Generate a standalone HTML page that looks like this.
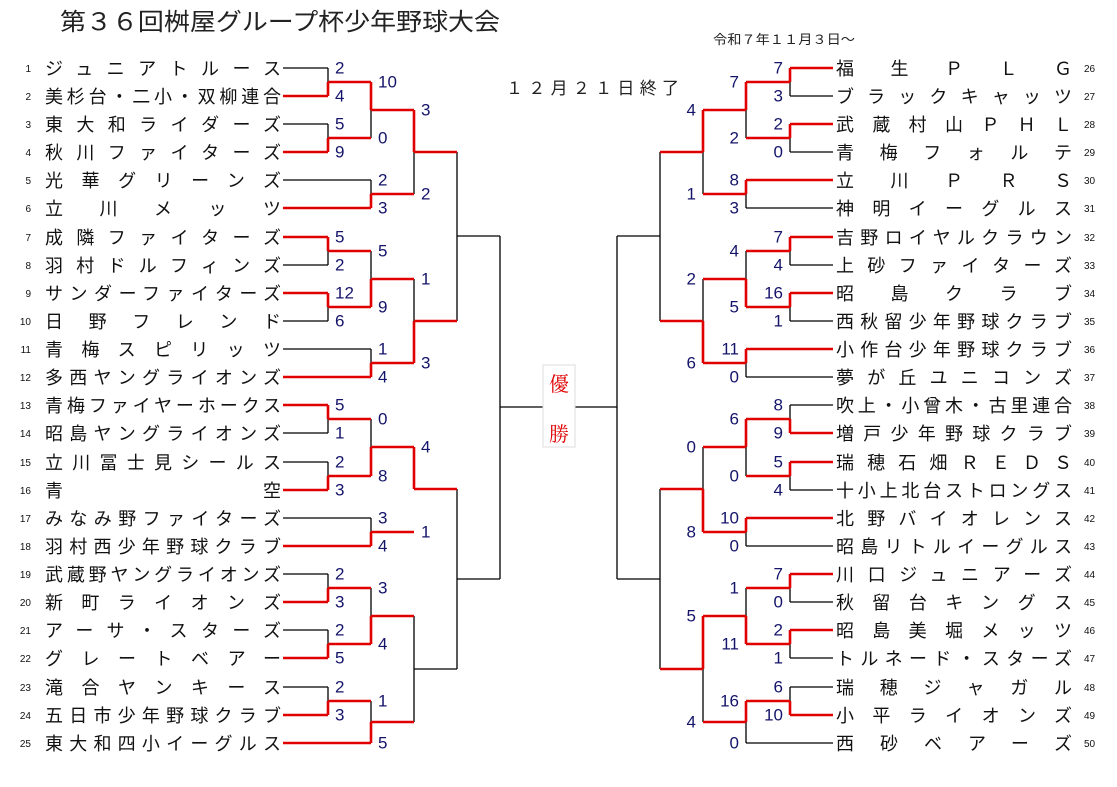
<!DOCTYPE html>
<html><head><meta charset="utf-8">
<style>
html,body{margin:0;padding:0;background:#fff;}
svg{display:block;}
.n{font-family:"Liberation Sans","Noto Sans CJK JP",sans-serif;font-size:18px;fill:#111;}
.s{font-family:"Liberation Sans",sans-serif;font-size:17px;fill:#14146a;dominant-baseline:central;}
.e{text-anchor:end;}
.k{font-family:"Liberation Sans",sans-serif;font-size:10px;fill:#111;}
.b{stroke:#000;stroke-width:1.3;fill:none;}
.r{stroke:#e00000;stroke-width:2.6;fill:none;}
</style></head><body>
<svg width="1117" height="787" viewBox="0 0 1117 787" xmlns="http://www.w3.org/2000/svg">
<text x="60" y="30" font-family="'Liberation Sans','Noto Sans CJK JP',sans-serif" font-size="24" fill="#222" textLength="440" lengthAdjust="spacingAndGlyphs">第３６回桝屋グループ杯少年野球大会</text>
<text x="713" y="44" font-family="'Liberation Sans','Noto Sans CJK JP',sans-serif" font-size="13" fill="#222" textLength="142" lengthAdjust="spacingAndGlyphs">令和７年１１月３日～</text>
<text x="506" y="94" font-family="'Liberation Sans','Noto Sans CJK JP',sans-serif" font-size="17" fill="#222" textLength="173" lengthAdjust="spacing">１２月２１日終了</text>

<path class="b" d="M283 68H328M283 124H328M283 265H328M283 321H328M283 433H328M283 462H328M283 574H328M283 630H328M283 687H328
M283 180H371M283 349H371M283 518H371
M328 68V82M328 124V138M328 251V265M328 307V321M328 419V433M328 462V476M328 574V588M328 630V644M328 687V701
M371 110V138M371 180V194M371 251V279M371 349V363M371 419V447M371 518V532M371 588V616M371 701V722
M414 152V194M414 279V321M414 447V489M414 616V722M414 669H457
M457 152V321M457 489V669M457 236H500M457 579H500M500 236V579M500 407H543"/>
<path class="r" d="M283 96H328M283 152H328M283 237H328M283 293H328M283 405H328M283 490H328M283 602H328M283 658H328M283 715H328
M283 208H371M283 377H371M283 546H371M283 743H371
M328 82V96M328 138V152M328 237V251M328 293V307M328 405V419M328 476V490M328 588V602M328 644V658M328 701V715
M328 82H371M328 138H371M328 251H371M328 307H371M328 419H371M328 476H371M328 588H371M328 644H371M328 701H371
M371 82V110M371 194V208M371 279V307M371 363V377M371 447V476M371 532V546M371 616V644M371 722V743
M371 110H414M371 194H414M371 279H414M371 363H414M371 447H414M371 532H414M371 616H414M371 722H414
M414 110V152M414 321V363M414 447V489M414 152H457M414 321H457M414 489H457"/>

<path class="b" d="M833 96H790M833 152H790M833 265H790M833 321H790M833 405H790M833 490H790M833 602H790M833 658H790M833 687H790
M833 208H746M833 377H746M833 546H746M833 743H746
M790 82V96M790 138V152M790 251V265M790 307V321M790 405V419M790 476V490M790 588V602M790 644V658M790 687V701
M746 110V138M746 194V208M746 251V279M746 363V377M746 447V476M746 532V546M746 588V616M746 722V743
M703 152V194M703 279V321M703 447V489M703 669V722
M660 152V321M660 489V669M660 236H617M660 579H617M617 236V579M617 407H575"/>
<path class="r" d="M833 68H790M833 124H790M833 237H790M833 293H790M833 433H790M833 462H790M833 574H790M833 630H790M833 715H790
M833 180H746M833 349H746M833 518H746
M790 68V82M790 124V138M790 237V251M790 293V307M790 419V433M790 462V476M790 574V588M790 630V644M790 701V715
M790 82H746M790 138H746M790 251H746M790 307H746M790 419H746M790 476H746M790 588H746M790 644H746M790 701H746
M746 82V110M746 180V194M746 279V307M746 349V363M746 419V447M746 518V532M746 616V644M746 701V722
M746 110H703M746 194H703M746 279H703M746 363H703M746 447H703M746 532H703M746 616H703M746 722H703
M703 110V152M703 321V363M703 489V532M703 616V669M703 152H660M703 321H660M703 489H660M703 669H660"/>

<rect x="543" y="365" width="32" height="82" fill="#fff" stroke="#ddd" stroke-width="1"/>
<text x="559" y="391" text-anchor="middle" font-family="'Liberation Serif','Noto Serif CJK SC',serif" font-size="20" fill="#e00000">優</text>
<text x="559" y="441" text-anchor="middle" font-family="'Liberation Serif','Noto Serif CJK SC',serif" font-size="20" fill="#e00000">勝</text>

<g class="k" text-anchor="end">
<text x="31" y="72">1</text><text x="31" y="100">2</text><text x="31" y="128">3</text><text x="31" y="156">4</text><text x="31" y="184">5</text><text x="31" y="212">6</text><text x="31" y="241">7</text><text x="31" y="269">8</text><text x="31" y="297">9</text><text x="31" y="325">10</text><text x="31" y="353">11</text><text x="31" y="381">12</text><text x="31" y="409">13</text><text x="31" y="437">14</text><text x="31" y="466">15</text><text x="31" y="494">16</text><text x="31" y="522">17</text><text x="31" y="550">18</text><text x="31" y="578">19</text><text x="31" y="606">20</text><text x="31" y="634">21</text><text x="31" y="662">22</text><text x="31" y="691">23</text><text x="31" y="719">24</text><text x="31" y="747">25</text>
</g>
<g class="k">
<text x="1084" y="72">26</text><text x="1084" y="100">27</text><text x="1084" y="128">28</text><text x="1084" y="156">29</text><text x="1084" y="184">30</text><text x="1084" y="212">31</text><text x="1084" y="241">32</text><text x="1084" y="269">33</text><text x="1084" y="297">34</text><text x="1084" y="325">35</text><text x="1084" y="353">36</text><text x="1084" y="381">37</text><text x="1084" y="409">38</text><text x="1084" y="437">39</text><text x="1084" y="466">40</text><text x="1084" y="494">41</text><text x="1084" y="522">42</text><text x="1084" y="550">43</text><text x="1084" y="578">44</text><text x="1084" y="606">45</text><text x="1084" y="634">46</text><text x="1084" y="662">47</text><text x="1084" y="691">48</text><text x="1084" y="719">49</text><text x="1084" y="747">50</text>
</g>

<g class="n">
<text x="45" y="75" textLength="236" lengthAdjust="spacing">ジュニアトルース</text>
<text x="45" y="103" textLength="236" lengthAdjust="spacing">美杉台・二小・双柳連合</text>
<text x="45" y="131" textLength="236" lengthAdjust="spacing">東大和ライダーズ</text>
<text x="45" y="159" textLength="236" lengthAdjust="spacing">秋川ファイターズ</text>
<text x="45" y="187" textLength="236" lengthAdjust="spacing">光華グリーンズ</text>
<text x="45" y="215" textLength="236" lengthAdjust="spacing">立川メッツ</text>
<text x="45" y="244" textLength="236" lengthAdjust="spacing">成隣ファイターズ</text>
<text x="45" y="272" textLength="236" lengthAdjust="spacing">羽村ドルフィンズ</text>
<text x="45" y="300" textLength="236" lengthAdjust="spacing">サンダーファイターズ</text>
<text x="45" y="328" textLength="236" lengthAdjust="spacing">日野フレンド</text>
<text x="45" y="356" textLength="236" lengthAdjust="spacing">青梅スピリッツ</text>
<text x="45" y="384" textLength="236" lengthAdjust="spacing">多西ヤングライオンズ</text>
<text x="45" y="412" textLength="236" lengthAdjust="spacing">青梅ファイヤーホークス</text>
<text x="45" y="440" textLength="236" lengthAdjust="spacing">昭島ヤングライオンズ</text>
<text x="45" y="469" textLength="236" lengthAdjust="spacing">立川冨士見シールス</text>
<text x="45" y="497" textLength="236" lengthAdjust="spacing">青空</text>
<text x="45" y="525" textLength="236" lengthAdjust="spacing">みなみ野ファイターズ</text>
<text x="45" y="553" textLength="236" lengthAdjust="spacing">羽村西少年野球クラブ</text>
<text x="45" y="581" textLength="236" lengthAdjust="spacing">武蔵野ヤングライオンズ</text>
<text x="45" y="609" textLength="236" lengthAdjust="spacing">新町ライオンズ</text>
<text x="45" y="637" textLength="236" lengthAdjust="spacing">アーサ・スターズ</text>
<text x="45" y="665" textLength="236" lengthAdjust="spacing">グレートベアー</text>
<text x="45" y="694" textLength="236" lengthAdjust="spacing">滝合ヤンキース</text>
<text x="45" y="722" textLength="236" lengthAdjust="spacing">五日市少年野球クラブ</text>
<text x="45" y="750" textLength="236" lengthAdjust="spacing">東大和四小イーグルス</text>
</g>
<g class="n">
<text x="836" y="75" textLength="236" lengthAdjust="spacing">福生ＰＬＧ</text>
<text x="836" y="103" textLength="236" lengthAdjust="spacing">ブラックキャッツ</text>
<text x="836" y="131" textLength="236" lengthAdjust="spacing">武蔵村山ＰＨＬ</text>
<text x="836" y="159" textLength="236" lengthAdjust="spacing">青梅フォルテ</text>
<text x="836" y="187" textLength="236" lengthAdjust="spacing">立川ＰＲＳ</text>
<text x="836" y="215" textLength="236" lengthAdjust="spacing">神明イーグルス</text>
<text x="836" y="244" textLength="236" lengthAdjust="spacing">吉野ロイヤルクラウン</text>
<text x="836" y="272" textLength="236" lengthAdjust="spacing">上砂ファイターズ</text>
<text x="836" y="300" textLength="236" lengthAdjust="spacing">昭島クラブ</text>
<text x="836" y="328" textLength="236" lengthAdjust="spacing">西秋留少年野球クラブ</text>
<text x="836" y="356" textLength="236" lengthAdjust="spacing">小作台少年野球クラブ</text>
<text x="836" y="384" textLength="236" lengthAdjust="spacing">夢が丘ユニコンズ</text>
<text x="836" y="412" textLength="236" lengthAdjust="spacing">吹上・小曾木・古里連合</text>
<text x="836" y="440" textLength="236" lengthAdjust="spacing">増戸少年野球クラブ</text>
<text x="836" y="469" textLength="236" lengthAdjust="spacing">瑞穂石畑ＲＥＤＳ</text>
<text x="836" y="497" textLength="236" lengthAdjust="spacing">十小上北台ストロングス</text>
<text x="836" y="525" textLength="236" lengthAdjust="spacing">北野バイオレンス</text>
<text x="836" y="553" textLength="236" lengthAdjust="spacing">昭島リトルイーグルス</text>
<text x="836" y="581" textLength="236" lengthAdjust="spacing">川口ジュニアーズ</text>
<text x="836" y="609" textLength="236" lengthAdjust="spacing">秋留台キングス</text>
<text x="836" y="637" textLength="236" lengthAdjust="spacing">昭島美堀メッツ</text>
<text x="836" y="665" textLength="236" lengthAdjust="spacing">トルネード・スターズ</text>
<text x="836" y="694" textLength="236" lengthAdjust="spacing">瑞穂ジャガル</text>
<text x="836" y="722" textLength="236" lengthAdjust="spacing">小平ライオンズ</text>
<text x="836" y="750" textLength="236" lengthAdjust="spacing">西砂ベアーズ</text>
</g>

<g class="s">
<text x="335" y="68">2</text><text x="335" y="96">4</text><text x="335" y="124">5</text><text x="335" y="152">9</text>
<text x="335" y="237">5</text><text x="335" y="265">2</text><text x="335" y="293">12</text><text x="335" y="321">6</text>
<text x="335" y="405">5</text><text x="335" y="433">1</text><text x="335" y="462">2</text><text x="335" y="490">3</text>
<text x="335" y="574">2</text><text x="335" y="602">3</text><text x="335" y="630">2</text><text x="335" y="658">5</text>
<text x="335" y="687">2</text><text x="335" y="715">3</text>
<text x="378" y="82">10</text><text x="378" y="138">0</text><text x="378" y="180">2</text><text x="378" y="208">3</text>
<text x="378" y="251">5</text><text x="378" y="307">9</text><text x="378" y="349">1</text><text x="378" y="377">4</text>
<text x="378" y="419">0</text><text x="378" y="476">8</text><text x="378" y="518">3</text><text x="378" y="546">4</text>
<text x="378" y="588">3</text><text x="378" y="644">4</text><text x="378" y="701">1</text><text x="378" y="743">5</text>
<text x="421" y="110">3</text><text x="421" y="194">2</text><text x="421" y="279">1</text><text x="421" y="363">3</text>
<text x="421" y="447">4</text><text x="421" y="532">1</text>
</g>
<g class="s e">
<text x="783" y="68">7</text><text x="783" y="96">3</text><text x="783" y="124">2</text><text x="783" y="152">0</text>
<text x="783" y="237">7</text><text x="783" y="265">4</text><text x="783" y="293">16</text><text x="783" y="321">1</text>
<text x="783" y="405">8</text><text x="783" y="433">9</text><text x="783" y="462">5</text><text x="783" y="490">4</text>
<text x="783" y="574">7</text><text x="783" y="602">0</text><text x="783" y="630">2</text><text x="783" y="658">1</text>
<text x="783" y="687">6</text><text x="783" y="715">10</text>
<text x="739" y="82">7</text><text x="739" y="138">2</text><text x="739" y="180">8</text><text x="739" y="208">3</text>
<text x="739" y="251">4</text><text x="739" y="307">5</text><text x="739" y="349">11</text><text x="739" y="377">0</text>
<text x="739" y="419">6</text><text x="739" y="476">0</text><text x="739" y="518">10</text><text x="739" y="546">0</text>
<text x="739" y="588">1</text><text x="739" y="644">11</text><text x="739" y="701">16</text><text x="739" y="743">0</text>
<text x="696" y="110">4</text><text x="696" y="194">1</text><text x="696" y="279">2</text><text x="696" y="363">6</text>
<text x="696" y="447">0</text><text x="696" y="532">8</text><text x="696" y="616">5</text><text x="696" y="722">4</text>
</g>
</svg>
</body></html>
